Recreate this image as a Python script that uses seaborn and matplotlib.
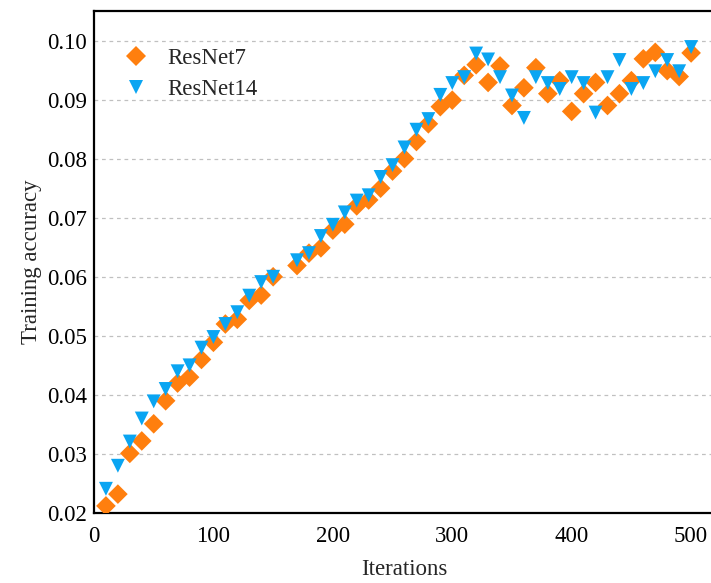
import numpy as np
import pandas as pd
import seaborn as sns
import matplotlib.pyplot as plt
from matplotlib.ticker import FormatStrFormatter

iterations = [10, 20, 30, 40, 50, 60, 70, 80, 90, 100,
              110, 120, 130, 140, 150, 170, 180, 190, 200, 210,
              220, 230, 240, 250, 260, 270, 280, 290, 300, 310,
              320, 330, 340, 350, 360, 370, 380, 390, 400, 410,
              420, 430, 440, 450, 460, 470, 480, 490, 500]

resnet7 = [0.0212, 0.0232, 0.0301, 0.0322, 0.0351, 0.0390, 0.0420, 0.0430, 0.0460, 0.0489,
           0.0520, 0.0528, 0.0560, 0.0569, 0.0600, 0.0619, 0.0640, 0.0649, 0.0679, 0.0689,
           0.0720, 0.0730, 0.0750, 0.0779, 0.0800, 0.0829, 0.0859, 0.0888, 0.0899, 0.0941,
           0.0959, 0.0929, 0.0957, 0.0890, 0.0920, 0.0954, 0.0910, 0.0932, 0.0880, 0.0910,
           0.0929, 0.0890, 0.0910, 0.0932, 0.0969, 0.0980, 0.0949, 0.0939, 0.0979]

resnet14 = [0.0241, 0.0280, 0.0321, 0.0360, 0.0389, 0.0410, 0.0440, 0.0450, 0.0480, 0.0498,
            0.0520, 0.0540, 0.0568, 0.0591, 0.0600, 0.0628, 0.0640, 0.0669, 0.0688, 0.0709,
            0.0729, 0.0738, 0.0769, 0.0789, 0.0819, 0.0849, 0.0867, 0.0908, 0.0928, 0.0938,
            0.0978, 0.0968, 0.0938, 0.0907, 0.0869, 0.0938, 0.0928, 0.0918, 0.0938, 0.0928,
            0.0878, 0.0938, 0.0967, 0.0918, 0.0928, 0.0948, 0.0967, 0.0948, 0.0989]

df = pd.DataFrame({"Iterations": iterations, "ResNet7": resnet7, "ResNet14": resnet14})
long_df = df.melt(id_vars="Iterations", var_name="Model", value_name="Accuracy")

sns.set_style("white")
plt.rcParams["font.family"] = ["Liberation Serif", "DejaVu Serif"]

fig = plt.figure(figsize=(7.11, 5.83), dpi=100)
ax = fig.add_axes([94 / 711, 70 / 583, 621 / 711, 502 / 583])

sns.scatterplot(data=long_df, x="Iterations", y="Accuracy", hue="Model", style="Model",
                palette={"ResNet7": "#FF7F0E", "ResNet14": "#0AA5F2"},
                markers={"ResNet7": "D", "ResNet14": "v"},
                s=100, linewidth=0, ax=ax, zorder=3)

ax.set_xlim(0, 520)
ax.set_ylim(0.02, 0.105)
ax.set_xticks([0, 100, 200, 300, 400, 500])
ax.set_yticks(np.arange(0.02, 0.1001, 0.01))
ax.yaxis.set_major_formatter(FormatStrFormatter("%.2f"))
ax.grid(axis="y", linestyle=(0, (3, 3)), color="#c0c0c0", linewidth=0.9)
ax.set_axisbelow(True)

for side in ["left", "bottom", "top", "right"]:
    ax.spines[side].set_color("black")
    ax.spines[side].set_linewidth(1.6)

ax.tick_params(direction="in", length=7, width=1.6, labelsize=16.5, colors="black")
ax.tick_params(axis="x", pad=9)
ax.tick_params(axis="y", pad=5)
ax.set_xlabel("Iterations", fontsize=16.5, labelpad=9)
ax.set_ylabel("Training accuracy", fontsize=16.5, labelpad=4)

ax.legend(title=None, frameon=False, loc="upper left", bbox_to_anchor=(0.03, 0.945),
          fontsize=16.5, handlelength=1.2, handletextpad=0.8, labelspacing=0.45,
          borderaxespad=0.0)

fig.savefig("out.png", dpi=100)
